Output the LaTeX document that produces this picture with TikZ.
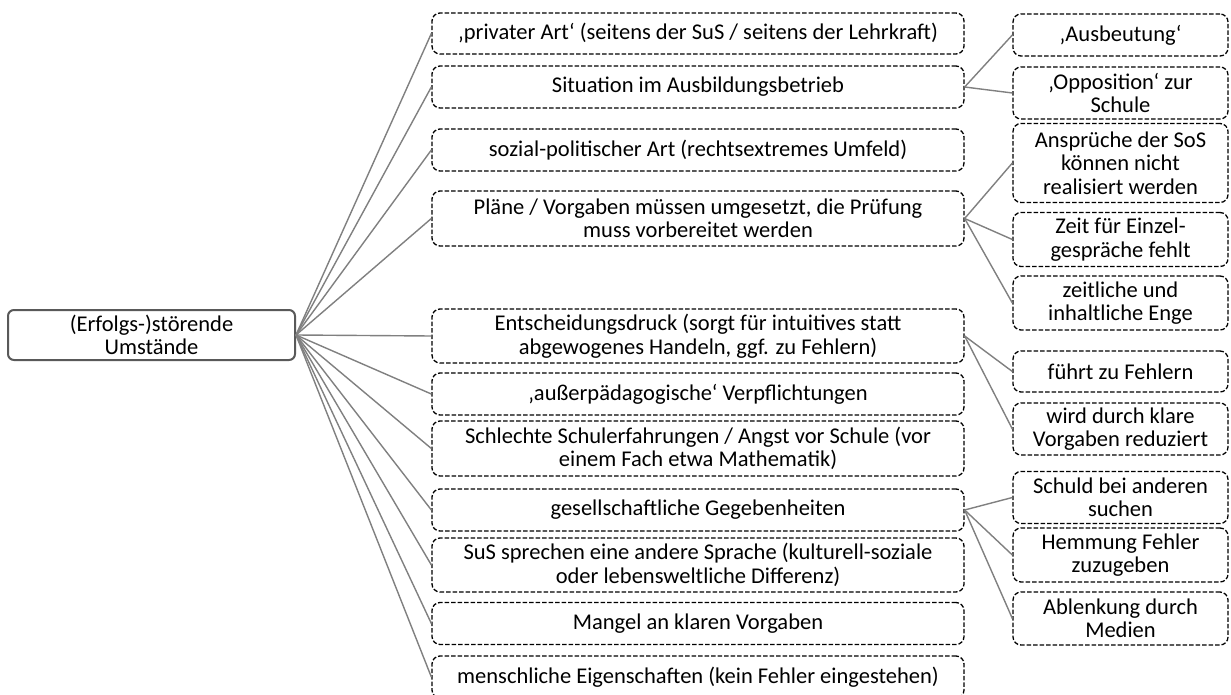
\documentclass[tikz,border=0pt]{standalone}
\usepackage{fontspec}
\setmainfont{Carlito}
\begin{document}
\begin{tikzpicture}[x=1pt,y=-1pt,
  txt/.style={font=\fontsize{22.5}{23.5}\selectfont, align=center, inner sep=0pt, text=black},
  rootbox/.style={txt, draw=black!65, line width=2pt, rounded corners=6pt,
    minimum width=287pt, minimum height=50pt},
  midbox/.style={txt, draw=black, dashed, dash pattern=on 4.5pt off 2pt, line width=1.3pt,
    rounded corners=8pt, minimum width=532pt},
  sidebox/.style={txt, draw=black, dashed, dash pattern=on 4.5pt off 2pt, line width=1.3pt,
    rounded corners=8pt, minimum width=215pt},
  link/.style={draw=black!50, line width=1.4pt}
]
\clip (0,0) rectangle (1231,695);
\fill[white] (0,0) rectangle (1231,695);

% central topic
\node[rootbox] (root) at (151.5,335) {(Erfolgs-)störende\\Umstände};

% first level
\node[midbox, minimum height=41pt] (m1) at (698,33.5) {‚privater Art‘ (seitens der SuS / seitens der Lehrkraft)};
\node[midbox, minimum height=42pt] (m2) at (698,87) {Situation im Ausbildungsbetrieb};
\node[midbox, minimum height=42pt] (m3) at (698,150) {sozial-politischer Art (rechtsextremes Umfeld)};
\node[midbox, minimum height=55pt] (m4) at (698,218.5) {Pläne / Vorgaben müssen umgesetzt, die Prüfung\\muss vorbereitet werden};
\node[midbox, minimum height=54pt] (m5) at (698,336) {Entscheidungsdruck (sorgt für intuitives statt\\abgewogenes Handeln, ggf. zu Fehlern)};
\node[midbox, minimum height=42pt] (m6) at (698,394) {‚außerpädagogische‘ Verpflichtungen};
\node[midbox, minimum height=55pt] (m7) at (698,448.5) {Schlechte Schulerfahrungen / Angst vor Schule (vor\\einem Fach etwa Mathematik)};
\node[midbox, minimum height=42pt] (m8) at (698,510) {gesellschaftliche Gegebenheiten};
\node[midbox, minimum height=54pt] (m9) at (698,565) {SuS sprechen eine andere Sprache (kulturell-soziale\\oder lebensweltliche Differenz)};
\node[midbox, minimum height=42pt] (m10) at (698,623.5) {Mangel an klaren Vorgaben};
\node[midbox, minimum height=42pt] (m11) at (698,677) {menschliche Eigenschaften (kein Fehler eingestehen)};

% second level
\node[sidebox, minimum height=42pt] (r1) at (1120.5,35) {‚Ausbeutung‘};
\node[sidebox, minimum height=52pt] (r2) at (1120.5,93) {‚Opposition‘ zur\\Schule};
\node[sidebox, minimum height=79pt] (r3) at (1120.5,163) {Ansprüche der SoS\\können nicht\\realisiert werden};
\node[sidebox, minimum height=54pt] (r4) at (1120.5,239.5) {Zeit für Einzel-\\gespräche fehlt};
\node[sidebox, minimum height=54pt] (r5) at (1120.5,303) {zeitliche und\\inhaltliche Enge};
\node[sidebox, minimum height=41pt] (r6) at (1120.5,371.5) {führt zu Fehlern};
\node[sidebox, minimum height=52pt] (r7) at (1120.5,429) {wird durch klare\\Vorgaben reduziert};
\node[sidebox, minimum height=52pt] (r8) at (1120.5,497.5) {Schuld bei anderen\\suchen};
\node[sidebox, minimum height=54pt] (r9) at (1120.5,555) {Hemmung Fehler\\zuzugeben};
\node[sidebox, minimum height=53pt] (r10) at (1120.5,618.5) {Ablenkung durch\\Medien};

% branches from the central topic
\foreach \m in {m1,m2,m3,m4,m5,m6,m7,m8,m9,m10,m11}
  \draw[link] (root.east) -- (\m.west);

% sub-branches
\draw[link] (m2.east) -- (r1.west);
\draw[link] (m2.east) -- (r2.west);
\draw[link] (m4.east) -- (r3.west);
\draw[link] (m4.east) -- (r4.west);
\draw[link] (m4.east) -- (r5.west);
\draw[link] (m5.east) -- (r6.west);
\draw[link] (m5.east) -- (r7.west);
\draw[link] (m8.east) -- (r8.west);
\draw[link] (m8.east) -- (r9.west);
\draw[link] (m8.east) -- (r10.west);
\end{tikzpicture}
\end{document}
